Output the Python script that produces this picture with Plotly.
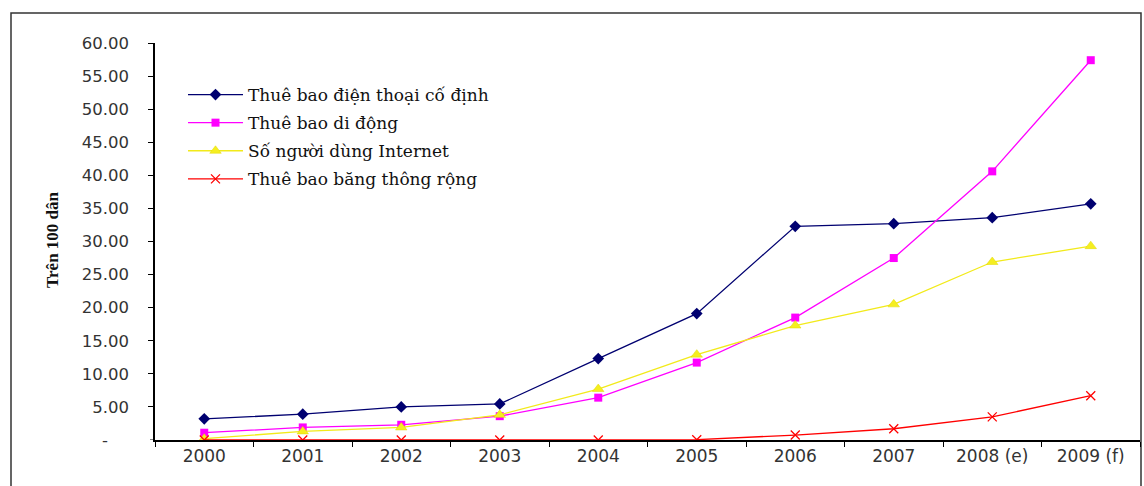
import plotly.graph_objects as go

years = ["2000", "2001", "2002", "2003", "2004", "2005", "2006", "2007", "2008 (e)", "2009 (f)"]
fixed_line = [3.2, 3.9, 5.0, 5.45, 12.3, 19.1, 32.3, 32.7, 33.6, 35.7]
mobile = [1.1, 1.9, 2.3, 3.6, 6.4, 11.7, 18.5, 27.5, 40.6, 57.4]
internet = [0.2, 1.3, 1.9, 3.8, 7.7, 12.9, 17.3, 20.5, 26.9, 29.3]
broadband = [0.0, 0.0, 0.0, 0.0, 0.0, 0.05, 0.75, 1.7, 3.5, 6.7]

names = ["Thuê bao điện thoại cố định", "Thuê bao di động",
         "Số người dùng Internet", "Thuê bao băng thông rộng"]
ytick_vals = [5, 10, 15, 20, 25, 30, 35, 40, 45, 50, 55, 60]
ytick_text = ["5.00", "10.00", "15.00", "20.00", "25.00", "30.00",
              "35.00", "40.00", "45.00", "50.00", "55.00", "60.00"]
zero_label = "-"

fig = go.Figure()
series = [
    (fixed_line, "#000070", dict(symbol="diamond", size=9, color="#000070")),
    (mobile, "#FF00FF", dict(symbol="square", size=8, color="#FF00FF")),
    (internet, "#F2EA1A", dict(symbol="triangle-up", size=10, color="#F5EE20",
                               line=dict(color="#E0D800", width=0.5))),
    (broadband, "#FF0000", dict(symbol="x-thin-open", size=9,
                                line=dict(color="#FF0000", width=1.3))),
]
for i, ((vals, col, mk), nm) in enumerate(zip(series, names)):
    fig.add_trace(go.Scatter(x=years, y=vals, name=nm, mode="lines+markers",
                             legendgroup=f"g{i}",
                             line=dict(color=col, width=1.3), marker=mk))

fig.update_layout(
    width=1144, height=486,
    margin=dict(l=155, r=4, t=43, b=46),
    paper_bgcolor="white", plot_bgcolor="white",
    showlegend=True,
    legend=dict(font=dict(family="DejaVu Serif", size=17, color="#111"),
                itemwidth=55, tracegroupgap=3, bgcolor="rgba(0,0,0,0)",
                x=(183 - 155) / (1144 - 159), y=(440 - 77) / (440 - 43),
                xanchor="left", yanchor="top"),
    xaxis=dict(type="category", showline=True, linecolor="#000", linewidth=1.5,
               ticks="outside", tickson="boundaries", ticklen=5, tickcolor="#000",
               showgrid=False, zeroline=False,
               tickfont=dict(family="DejaVu Sans", size=17, color="#333"),
               range=[-0.5, 9.5]),
    yaxis=dict(range=[0, 60], tickvals=ytick_vals, ticktext=ytick_text,
               showline=True, linecolor="#000", linewidth=1.5,
               ticks="outside", ticklen=5, tickcolor="#000",
               showgrid=False, zeroline=False, ticklabelstandoff=16,
               tickfont=dict(family="DejaVu Sans", size=16.5, color="#333")),
    font=dict(family="DejaVu Sans"),
)

# zero tick mark (tick label shown as accounting dash)
fig.add_shape(type="line", xref="paper", yref="y",
              x0=-5 / 985, x1=0, y0=0, y1=0, line=dict(color="#000", width=1))
fig.add_annotation(text=zero_label, xref="paper", yref="y",
                   x=-(155 - 105) / 985, y=0,
                   xanchor="center", yanchor="middle", showarrow=False,
                   font=dict(family="DejaVu Sans", size=16.5, color="#333"))

fig.add_annotation(text="<b>Trên 100 dân</b>", textangle=-90, xref="paper", yref="paper",
                   x=-(155 - 52) / 985, y=(440 - 240) / (440 - 43),
                   xanchor="center", yanchor="middle", showarrow=False,
                   font=dict(family="Liberation Serif", size=17, color="#111"))

# outer chart border
fig.add_shape(type="rect", xref="paper", yref="paper",
              x0=-(155 - 11) / 985, x1=(1141 - 155) / 985,
              y0=-(500 - 440) / (440 - 43), y1=(440 - 13) / (440 - 43),
              line=dict(color="#333", width=1.5), layer="below")

fig.write_html("out.html")
